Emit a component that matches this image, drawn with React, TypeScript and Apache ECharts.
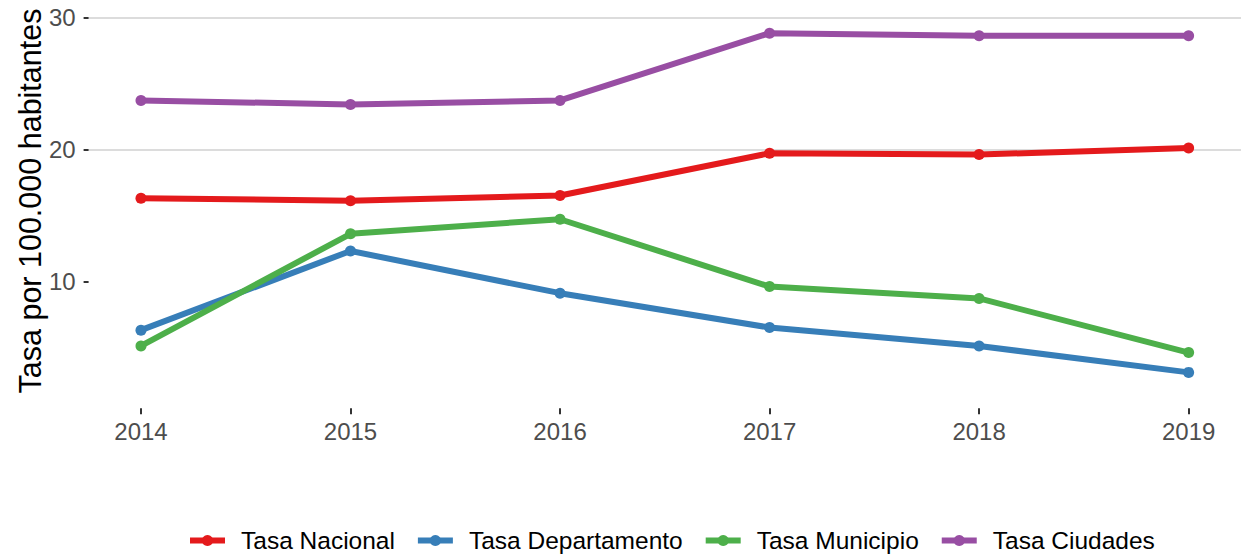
import React, { useEffect, useRef } from "react";
import * as echarts from "echarts";

const years = [2014, 2015, 2016, 2017, 2018, 2019];
const seriesNames = ["Tasa Nacional", "Tasa Departamento", "Tasa Municipio", "Tasa Ciudades"];
const nacional = [16.3, 16.1, 16.5, 19.7, 19.6, 20.1];
const departamento = [6.3, 12.3, 9.1, 6.5, 5.1, 3.1];
const municipio = [5.1, 13.6, 14.7, 9.6, 8.7, 4.6];
const ciudades = [23.7, 23.4, 23.7, 28.8, 28.6, 28.6];
const yTicks = [10, 20, 30];
const yTitle = "Tasa por 100.000 habitantes";
const colors = ["#E41A1C", "#377EB8", "#4DAF4A", "#984EA3"];

const FONT = "'Liberation Sans', Arial, Helvetica, sans-serif";

export default function App() {
  const ref = useRef<HTMLDivElement>(null);
  useEffect(() => {
    if (!ref.current) return;
    const chart = echarts.init(ref.current, null, { renderer: "svg" });
    const all = [nacional, departamento, municipio, ciudades];
    chart.setOption({
      animation: false,
      color: colors,
      textStyle: { fontFamily: FONT },
      grid: { left: 88.6, right: 0, top: 17.3, bottom: 140.7 },
      graphic: [
        {
          type: "text",
          x: 30,
          y: 201,
          rotation: Math.PI / 2,
          style: {
            text: yTitle,
            fontSize: 30.5,
            fontFamily: FONT,
            fill: "#000",
            align: "center",
            verticalAlign: "middle",
          },
        },
      ],
      legend: {
        data: seriesNames,
        left: 182,
        top: 523,
        itemWidth: 35,
        itemHeight: 14,
        itemGap: 20,
        lineStyle: { width: 6 },
        textStyle: { fontSize: 24.5, color: "#000", fontFamily: FONT, padding: [0, 0, 0, 11] },
      },
      xAxis: {
        type: "value",
        min: 2013.75,
        max: 2019.25,
        offset: -5,
        axisLine: { show: false },
        splitLine: { show: false },
        axisTick: {
          show: true,
          customValues: years,
          length: 6,
          lineStyle: { color: "#333", width: 2 },
        },
        axisLabel: {
          customValues: years,
          formatter: (v: number) => String(v),
          fontSize: 24,
          color: "#4D4D4D",
          margin: 11,
          fontFamily: FONT,
        },
      },
      yAxis: {
        type: "value",
        min: 0,
        max: 30,
        interval: 10,
        axisLine: { show: false },
        axisTick: {
          show: true,
          customValues: yTicks,
          length: 5,
          lineStyle: { color: "#333", width: 2 },
        },
        axisLabel: {
          customValues: yTicks,
          fontSize: 24,
          color: "#4D4D4D",
          margin: 13,
          fontFamily: FONT,
        },
        splitLine: {
          show: true,
          showMinLine: false,
          lineStyle: { color: "#DCDCDC", width: 2 },
        },
      },
      series: seriesNames.map((name, i) => ({
        name,
        type: "line",
        data: years.map((y, j) => [y, all[i][j]]),
        symbol: "circle",
        symbolSize: 11,
        showSymbol: true,
        clip: false,
        lineStyle: { width: 6, color: colors[i] },
        itemStyle: { color: colors[i] },
      })),
    });
    return () => chart.dispose();
  }, []);
  return (
    <div
      ref={ref}
      style={{ position: "fixed", left: 0, top: 0, width: 1241, height: 554, background: "#fff" }}
    />
  );
}
